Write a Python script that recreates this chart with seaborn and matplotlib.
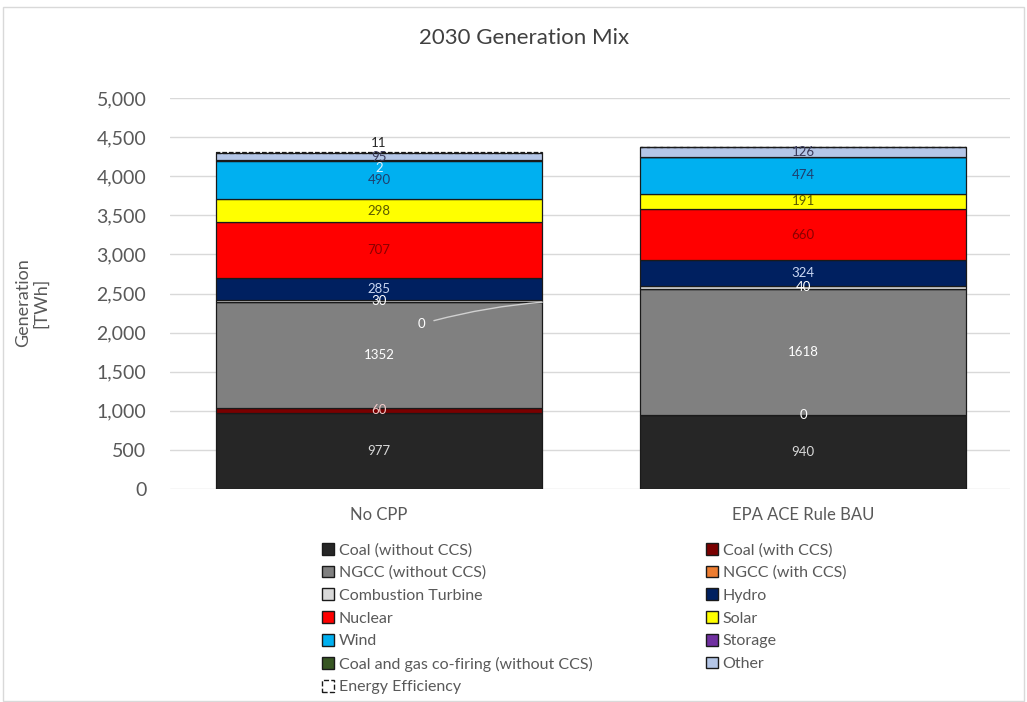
import numpy as np
import matplotlib
matplotlib.use("Agg")
import matplotlib.pyplot as plt
from matplotlib.patches import Patch, Rectangle
import seaborn as sns

# Scenarios and generation by technology (TWh), stacked bottom to top
scenarios = ["No CPP", "EPA ACE Rule BAU"]
technologies = [
    "Coal (without CCS)", "Coal (with CCS)", "NGCC (without CCS)", "NGCC (with CCS)",
    "Combustion Turbine", "Hydro", "Nuclear", "Solar", "Wind", "Storage",
    "Coal and gas co-firing (without CCS)", "Other", "Energy Efficiency",
]
coal_no_ccs = [977, 940]
coal_ccs = [60, 0]
ngcc_no_ccs = [1352, 1618]
ngcc_ccs = [0, 0]
combustion_turbine = [30, 40]
hydro = [285, 324]
nuclear = [707, 660]
solar = [298, 191]
wind = [490, 474]
storage = [2, 0]
cofiring = [0, 0]
other = [95, 126]
energy_efficiency = [11, 0]

series = [coal_no_ccs, coal_ccs, ngcc_no_ccs, ngcc_ccs, combustion_turbine, hydro,
          nuclear, solar, wind, storage, cofiring, other, energy_efficiency]

fill_colors = ["#262626", "#7a0000", "#808080", "#ed7d31", "#d9d9d9", "#002060",
               "#ff0000", "#ffff00", "#00b0f0", "#7030a0", "#375623", "#b4c6e7", "none"]
label_colors = ["#d9d9d9", "#f0c8c8", "#ffffff", "#ffffff", "#ffffff", "#c9d6f2",
                "#8b0000", "#5a5a00", "#1f3f6e", "#dff3ff", "#ffffff", "#3a3a5a", "#262626"]

text_gray = "#595959"

sns.set_theme(style="white")
plt.rcParams["font.family"] = ["Lato", "DejaVu Sans"]

fig = plt.figure(figsize=(10.27, 7.02), dpi=100)
ax = fig.add_axes([170 / 1027, 1 - 489 / 702, 840 / 1027, 391 / 702])

bar_width = 0.77
bottoms = np.zeros(len(scenarios))
for name, vals, fc, lc in zip(technologies, series, fill_colors, label_colors):
    vals = np.asarray(vals, dtype=float)
    dashed = name == "Energy Efficiency"
    sns.barplot(x=scenarios, y=vals, bottom=bottoms, ax=ax, width=bar_width,
                color="white" if dashed else fc, fill=not dashed,
                edgecolor="#1a1a1a", linewidth=0.9,
                linestyle="--" if dashed else "-", saturation=1, zorder=3)
    for i, v in enumerate(vals):
        mid = bottoms[i] + v / 2
        if dashed and v > 0:
            # small top segment: label sits just above the bar
            ax.text(i, bottoms[i] + v + 45, f"{v:.0f}", ha="center", va="bottom",
                    fontsize=9.5, color=lc, zorder=5)
        elif name == "Storage" and v > 0:
            # thin slice: label nudged down into the wind segment
            ax.text(i, mid - 95, f"{v:.0f}", ha="center", va="center",
                    fontsize=9.5, color=lc, zorder=5)
        elif v > 0:
            ax.text(i, mid, f"{v:.0f}", ha="center", va="center",
                    fontsize=9.5, color=lc, zorder=5)
        elif name == "NGCC (with CCS)" and i == 0:
            ax.annotate("0", xy=(i + bar_width / 2, bottoms[i]),
                        xytext=(i + 0.1, bottoms[i] - 280),
                        ha="center", va="center", fontsize=9.5, color="white",
                        arrowprops=dict(arrowstyle="-", color="#d0d0d0", lw=1,
                                        shrinkA=4, shrinkB=0,
                                        connectionstyle="arc3,rad=-0.05"),
                        zorder=5)
        elif name == "Coal (with CCS)" and i == 1:
            ax.text(i, bottoms[i], "0", ha="center", va="center",
                    fontsize=9.5, color="white", zorder=5)
    bottoms = bottoms + vals

ax.set_ylim(0, 5000)
ax.set_xlim(-0.493, 1.488)
ax.set_yticks(np.arange(0, 5001, 500))
ax.yaxis.set_major_formatter(matplotlib.ticker.FuncFormatter(lambda v, p: f"{v:,.0f}"))
ax.grid(axis="y", color="#d9d9d9", linewidth=1, zorder=0)
ax.grid(axis="x", visible=False)
for s in ax.spines.values():
    s.set_visible(False)
ax.tick_params(axis="both", length=0, colors=text_gray)
ax.tick_params(axis="y", pad=17, labelsize=14)
ax.tick_params(axis="x", pad=13, labelsize=12)
ax.set_xlabel("")
ax.set_ylabel("")

fig.text(524 / 1027, 1 - 38 / 702, "2030 Generation Mix", ha="center", va="center",
         fontsize=16, color="#404040")
fig.text(32 / 1027, 1 - 303 / 702, "Generation\n[TWh]", rotation=90, ha="center",
         va="center", multialignment="center", fontsize=13, color=text_gray,
         linespacing=1.1)

# Legend: two columns, filled row by row
handles = {}
for name, fc in zip(technologies, fill_colors):
    if name == "Energy Efficiency":
        handles[name] = Patch(facecolor="none", edgecolor="#1a1a1a", linestyle="--", linewidth=1)
    else:
        handles[name] = Patch(facecolor=fc, edgecolor="#1a1a1a", linewidth=1)
left_col = technologies[0::2]
right_col = technologies[1::2]
order = left_col + right_col
leg = fig.legend([handles[n] for n in order], order, ncol=2, loc="upper left",
                 bbox_to_anchor=(322 / 1027, 1 - 543 / 702), frameon=False,
                 fontsize=11.5, handlelength=0.75, handleheight=0.75,
                 handletextpad=0.3, labelspacing=0.52, columnspacing=7.1,
                 borderpad=0, borderaxespad=0)
for t in leg.get_texts():
    t.set_color(text_gray)

# Chart area border
fig.patches.append(Rectangle((3 / 1027, 0.002), 1 - 6 / 1027, 1 - 7 / 702 - 0.002,
                             transform=fig.transFigure, fill=False,
                             edgecolor="#d9d9d9", linewidth=1))

fig.savefig("out.png", dpi=100)
